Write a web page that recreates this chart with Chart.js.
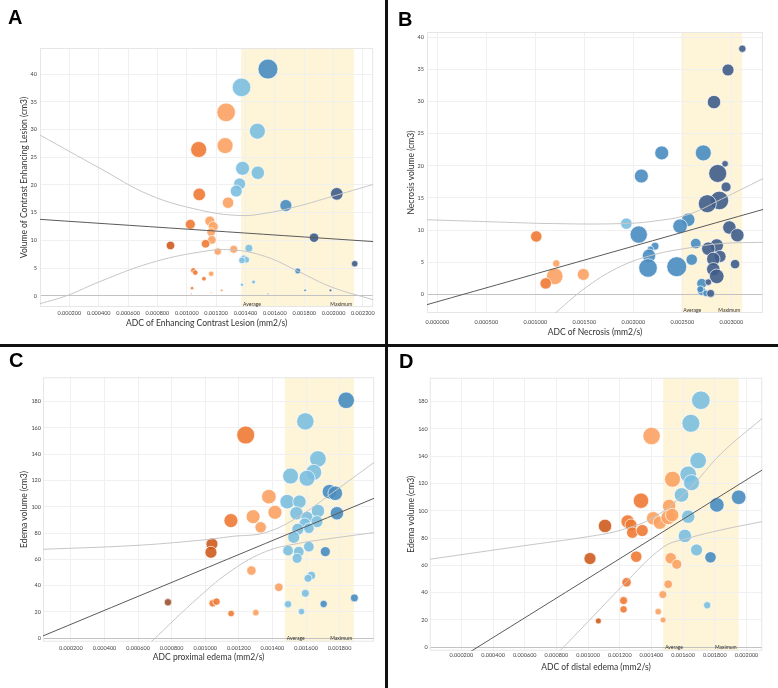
<!DOCTYPE html>
<html>
<head>
<meta charset="utf-8">
<script src="https://cdn.jsdelivr.net/npm/chart.js@4.4.0/dist/chart.umd.min.js"></script>
<style>
  body { margin: 0; width: 778px; height: 688px; background: #fff; position: relative; overflow: hidden; }
  canvas { position: absolute; }
  .letter { position: absolute; font: bold 20px "Liberation Sans", Arial, sans-serif; line-height: 20px; color: #000; }
  .vline { position: absolute; left: 385px; top: 0; width: 3px; height: 688px; background: #111; }
  .hline { position: absolute; left: 0; top: 344px; width: 778px; height: 3px; background: #111; }
</style>
</head>
<body>
<canvas id="chartA" width="384" height="340" style="left:0;top:0"></canvas>
<canvas id="chartB" width="389" height="340" style="left:389px;top:0"></canvas>
<canvas id="chartC" width="384" height="341" style="left:0;top:347px"></canvas>
<canvas id="chartD" width="389" height="341" style="left:389px;top:347px"></canvas>
<div class="vline"></div>
<div class="hline"></div>
<div class="letter" style="left:8px;top:7px">A</div>
<div class="letter" style="left:398px;top:9px">B</div>
<div class="letter" style="left:9px;top:350px">C</div>
<div class="letter" style="left:399px;top:351px">D</div>
<script>
// ---- A: enhancing contrast lesion ----
const adcA = [0.001553,0.001373,0.001268,0.001481,0.001081,0.001261,0.001380,0.001484,0.001360,0.001337,0.001085,0.001281,0.001675,0.002022,0.001157,0.001180,0.001024,0.001166,0.001171,0.001867,0.000889,0.001128,0.001320,0.001423,0.001211,0.001389,0.001405,0.001376,0.002144,0.001756,0.001045,0.001058,0.001166,0.001117,0.001376,0.001455,0.001036,0.001238,0.001806,0.001979,0.001030,0.001166,0.001553];
const volA = [40.9,37.6,33.1,29.7,26.4,27.1,23.0,22.2,20.2,18.9,18.3,16.8,16.3,18.4,13.5,12.5,12.9,11.5,10.1,10.5,9.1,9.4,8.4,8.6,8.0,6.8,6.5,6.4,5.8,4.5,4.6,4.2,4.0,3.1,2.0,2.5,1.4,1.0,1.0,1.0,0.4,0.6,0.4];
const sizeA = [10,9.3,9.3,8,8,8,7,6.7,6,6,6.3,5.7,6,6.3,5,5,5,4.3,4.3,4.7,4.3,4.3,4,4,3.7,3.3,3.3,3.3,3.3,3,2.7,2.7,2.7,2.3,1.7,2,1.7,1.3,1.3,1.3,0.8,0.8,0.8];
const groupA = [5,4,3,4,2,3,4,4,4,4,2,3,5,6,3,3,2,3,3,6,1,2,3,4,3,4,4,4,6,5,2,2,3,2,4,4,2,3,5,6,2,3,6];
const fitA = [[0, 0.00227], [13.8, 9.8]];
const upperA = [[0, 0.000409, 0.000747, 0.001085, 0.001355, 0.001536, 0.001761, 0.001986, 0.00227], [29.0, 23.0, 18.2, 15.5, 14.5, 14.9, 16.2, 17.9, 20.1]];
const lowerA = [[0, 0.000184, 0.000409, 0.000747, 0.001085, 0.00131, 0.001536, 0.001761, 0.001986, 0.00227], [-1.4, 0.06, 2.6, 5.9, 7.9, 8.3, 7.1, 4.4, 1.6, -0.7]];
const bandA = [0.00137, 0.00214];
const xTicksA = [0.0002,0.0004,0.0006,0.0008,0.001,0.0012,0.0014,0.0016,0.0018,0.002,0.0022];
const yTicksA = [0,5,10,15,20,25,30,35,40];

// ---- B: necrosis ----
const adcB = [0.003112,0.002966,0.002823,0.002290,0.002714,0.002082,0.002936,0.002861,0.002946,0.002878,0.002755,0.001929,0.002561,0.002477,0.002055,0.001010,0.002980,0.003061,0.002637,0.002851,0.002765,0.002221,0.002174,0.002160,0.002885,0.002816,0.001214,0.002443,0.002150,0.002596,0.003038,0.002816,0.002851,0.001198,0.001490,0.001106,0.002698,0.002765,0.002698,0.002742,0.002789,0.002684];
const volB = [38.2,34.9,29.9,22.0,22.0,18.4,20.3,18.8,16.7,14.6,14.1,11.0,11.6,10.6,9.3,9.0,10.4,9.2,7.9,7.6,7.1,7.5,7.0,6.0,5.9,5.5,4.8,4.3,4.1,5.4,4.7,3.9,2.8,2.8,3.1,1.7,1.7,1.9,0.5,0.15,0.15,0.8];
const sizeB = [3.7,6,6.7,7,8,7,3.3,9,5,9.3,9,5.7,6.7,7.3,8.7,5.7,6.7,6.7,5.3,6.7,6.7,4,3.3,6.7,6,6.7,3.7,10,9.3,5.7,4.7,6.7,7.3,8.3,6,5.7,5,3.3,4.3,3.3,4,3.5];
const groupB = [6,6,6,5,5,5,6,6,6,6,6,4,5,5,5,2,6,6,5,6,6,5,5,5,6,6,3,5,5,5,6,6,6,3,3,2,5,6,5,5,6,5];
const fitB = [[-0.000105, 0.003323], [-1.6, 13.2]];
const upperB = [[-0.000105, 0.000517, 0.001197, 0.001878, 0.002218, 0.002558, 0.002898, 0.003323], [11.6, 11.3, 11.0, 11.0, 11.4, 12.4, 14.8, 18.0]];
const lowerB = [[0.00115, 0.001537, 0.001878, 0.002218, 0.002558, 0.002898, 0.003323], [-3.6, 1.3, 4.4, 6.2, 7.2, 7.9, 8.1]];
const bandB = [0.00249, 0.00311];
const xTicksB = [0,0.0005,0.001,0.0015,0.002,0.0025,0.003];
const yTicksB = [0,5,10,15,20,25,30,35,40];

// ---- C: proximal edema ----
const adcC = [0.001839,0.001596,0.001241,0.001671,0.001646,0.001508,0.001606,0.001740,0.001774,0.001379,0.001488,0.001561,0.001415,0.001671,0.001784,0.001543,0.001153,0.001285,0.001330,0.001606,0.001665,0.001593,0.001617,0.001551,0.001527,0.001040,0.001034,0.001617,0.001493,0.001557,0.001547,0.001715,0.001275,0.001632,0.001612,0.001438,0.001596,0.000778,0.001044,0.001067,0.001493,0.001705,0.001888,0.001154,0.001301,0.001573];
const volC = [181.0,165.0,154.6,136.4,126.2,123.4,121.7,111.5,110.3,107.7,103.9,103.9,95.8,96.8,95.1,95.1,89.5,92.5,84.4,92.0,88.7,86.9,83.7,82.9,76.8,71.7,65.4,69.7,66.7,65.9,60.8,65.9,51.5,47.7,45.6,38.8,34.2,27.4,26.6,27.9,25.9,26.1,30.7,18.8,19.5,20.3];
const sizeC = [8.3,8.7,9,8.3,8,8,8,7.3,7.3,7.3,7.3,6.7,7,6.7,6.7,6.7,7,7,5.7,6,6,6,5.3,6,6,6,6,5.3,5.3,5.3,5,5,4.7,4.3,4,4.3,4,3.7,3.7,3.7,3.7,3.7,4,3.3,3.3,3.3];
const groupC = [5,4,2,4,4,4,4,5,5,3,4,4,3,4,5,4,2,3,3,4,4,4,4,4,4,1,1,4,4,4,4,5,3,4,4,3,4,0,2,2,4,5,5,2,3,4];
const fitC = [[0.000034, 0.002006], [1.8, 106.5]];
const upperC = [[0.000034, 0.00057, 0.000965, 0.001162, 0.001359, 0.001556, 0.001753, 0.002006], [67.7, 70.5, 74.5, 77.5, 80.4, 92.5, 110.3, 133.8]];
const lowerC = [[0.000679, 0.000965, 0.001162, 0.001359, 0.001556, 0.001753, 0.002006], [-2.6, 31.7, 52.0, 65.9, 72.2, 76.0, 80.4]];
const bandC = [0.001474, 0.001886];
const xTicksC = [0.0002,0.0004,0.0006,0.0008,0.001,0.0012,0.0014,0.0016,0.0018];
const yTicksC = [0,20,40,60,80,100,120,140,160,180];

// ---- D: distal edema ----
const adcD = [0.001712,0.001649,0.001401,0.001695,0.001632,0.001653,0.001533,0.001590,0.001951,0.001813,0.001334,0.001512,0.001411,0.001453,0.001506,0.001531,0.001632,0.001107,0.001250,0.001271,0.001279,0.001342,0.001611,0.001685,0.001773,0.001012,0.001304,0.001522,0.001560,0.001243,0.001506,0.001472,0.001224,0.001224,0.001443,0.001752,0.001474,0.001065];
const volD = [181.0,164.1,154.8,136.8,126.7,120.6,123.1,111.6,109.9,104.3,107.4,103.5,94.5,91.3,95.2,96.9,95.7,88.9,92.1,89.6,84.0,85.5,81.6,71.3,65.9,65.0,66.4,65.2,60.8,47.6,46.2,38.6,34.2,27.8,26.1,30.8,20.0,19.3];
const sizeD = [9.3,9,8.7,8.3,8.3,8,8,7.3,7.3,7.3,7.7,6.7,6.7,6.7,7.3,6.7,6.7,6.7,6.7,6,5.7,6,6.7,6,5.7,6,5.7,5.7,5,4.7,4.3,4,4,3.7,3.3,3.7,3,3];
const groupD = [4,4,3,4,4,4,3,4,5,5,2,3,3,3,3,3,4,1,2,2,2,2,4,4,5,1,2,3,3,2,3,3,2,2,3,4,3,1];
const fitD = [[0.00025, 0.0021], [-3.7, 129.9]];
const upperD = [[0, 0.000582, 0.001002, 0.001212, 0.001422, 0.001632, 0.001842, 0.0021], [64.5, 74.2, 81.1, 86.0, 95.7, 115.3, 142.1, 167.8]];
const lowerD = [[0.000823, 0.001002, 0.001212, 0.001474, 0.001632, 0.001842, 0.0021], [-2.5, 19.0, 44.4, 73.3, 79.9, 86.0, 92.1]];
const bandD = [0.001474, 0.001951];
const xTicksD = [0.0002,0.0004,0.0006,0.0008,0.001,0.0012,0.0014,0.0016,0.0018,0.002];
const yTicksD = [0,20,40,60,80,100,120,140,160,180];

const bandLabels = ['Average', 'Maximum'];

// diverging orange-blue colours for the groups
const groupColors = [
  'rgba(158,86,52,0.92)',
  'rgba(205,92,30,0.9)',
  'rgba(238,122,52,0.9)',
  'rgba(251,162,98,0.9)',
  'rgba(124,191,224,0.9)',
  'rgba(72,140,192,0.9)',
  'rgba(63,92,138,0.9)'
];

const tickFont = { family: 'Lato', size: 5.5 };
const titleFont = { family: 'Lato', size: 8.5 };

const bandPlugin = {
  id: 'band',
  beforeDraw(chart, args, opts) {
    const { ctx, chartArea: a, scales: { x } } = chart;
    const x0 = x.getPixelForValue(opts.from);
    const x1 = x.getPixelForValue(opts.to);
    ctx.save();
    ctx.fillStyle = '#fef4d8';
    ctx.fillRect(x0, a.top, x1 - x0, a.bottom - a.top);
    ctx.restore();
  },
  beforeDatasetsDraw(chart, args, opts) {
    const { ctx, chartArea: a, scales: { x } } = chart;
    const x0 = x.getPixelForValue(opts.from);
    const x1 = x.getPixelForValue(opts.to);
    ctx.save();
    ctx.strokeStyle = '#e6e6e6';
    ctx.lineWidth = 1;
    ctx.strokeRect(a.left + 0.5, a.top + 0.5, a.right - a.left - 1, a.bottom - a.top - 1);
    ctx.fillStyle = '#333';
    ctx.font = '5px Lato';
    ctx.textBaseline = 'bottom';
    ctx.textAlign = 'left';
    ctx.fillText(bandLabels[0], x0 + 2, a.bottom - 0.5);
    ctx.textAlign = 'right';
    ctx.fillText(bandLabels[1], x1 - 2, a.bottom - 0.5);
    ctx.restore();
  }
};

function lineSet(pts, color) {
  return {
    type: 'line',
    data: pts[0].map((x, i) => ({ x: x, y: pts[1][i] })),
    borderColor: color,
    borderWidth: 1,
    pointRadius: 0,
    tension: 0.4,
    fill: false
  };
}

function makeChart(id, p) {
  return new Chart(document.getElementById(id), {
    type: 'bubble',
    data: {
      datasets: [
        lineSet(p.fit, '#5a5a5a'),
        lineSet(p.upper, '#c6c6c6'),
        lineSet(p.lower, '#c6c6c6'),
        {
          type: 'bubble',
          data: p.adc.map((x, i) => ({ x: x, y: p.vol[i], r: p.size[i] })),
          backgroundColor: c => groupColors[p.group[c.dataIndex]],
          borderColor: 'rgba(255,255,255,0.85)',
          borderWidth: 0.8
        }
      ]
    },
    options: {
      responsive: false,
      animation: false,
      events: [],
      layout: { padding: { left: 0, top: p.top, right: p.right, bottom: 0 } },
      plugins: {
        legend: { display: false },
        tooltip: { enabled: false },
        band: { from: p.band[0], to: p.band[1] }
      },
      scales: {
        x: {
          type: 'linear',
          min: p.xRange[0],
          max: p.xRange[1],
          afterBuildTicks: s => { s.ticks = p.xTicks.map(v => ({ value: v })); },
          afterFit: s => { s.height = p.xh; },
          ticks: { callback: v => v.toFixed(6), font: tickFont, color: '#444', padding: p.xtp, maxRotation: 0, autoSkip: false },
          grid: { color: '#f0f0f0', drawTicks: false },
          border: { display: false },
          title: { display: true, text: p.xTitle, font: titleFont, color: '#333', padding: { top: 0, bottom: p.xtb } }
        },
        y: {
          type: 'linear',
          min: p.yRange[0],
          max: p.yRange[1],
          afterBuildTicks: s => { s.ticks = p.yTicks.map(v => ({ value: v })); },
          afterFit: s => { s.width = p.yw; },
          ticks: { callback: v => String(v), font: tickFont, color: '#444', padding: p.ytp, autoSkip: false },
          grid: { color: c => (c.tick && c.tick.value === 0 ? '#c2c2c2' : '#f0f0f0'), drawTicks: false },
          border: { display: false },
          title: { display: true, text: p.yTitle, font: titleFont, color: '#333', padding: { top: p.ytt, bottom: 0 } }
        }
      }
    },
    plugins: [bandPlugin]
  });
}

makeChart('chartA', {
  adc: adcA, vol: volA, size: sizeA, group: groupA,
  fit: fitA, upper: upperA, lower: lowerA, band: bandA,
  xTicks: xTicksA, yTicks: yTicksA, xRange: [0, 0.00227], yRange: [-2, 44.7],
  xTitle: 'ADC of Enhancing Contrast Lesion (mm2/s)', yTitle: 'Volume of Contrast Enhancing Lesion (cm3)',
  top: 48, right: 9, yw: 40, xh: 33, xtp: 3, ytp: 3, xtb: 11.6, ytt: 19.6
});
makeChart('chartB', {
  adc: adcB, vol: volB, size: sizeB, group: groupB,
  fit: fitB, upper: upperB, lower: lowerB, band: bandB,
  xTicks: xTicksB, yTicks: yTicksB, xRange: [-0.000105, 0.003323], yRange: [-2.9, 40.8],
  xTitle: 'ADC of Necrosis (mm2/s)', yTitle: 'Necrosis volume (cm3)',
  top: 32, right: 15, yw: 38, xh: 27, xtp: 6, ytp: 3, xtb: 2.9, ytt: 16.9
});
makeChart('chartC', {
  adc: adcC, vol: volC, size: sizeC, group: groupC,
  fit: fitC, upper: upperC, lower: lowerC, band: bandC,
  xTicks: xTicksC, yTicks: yTicksC, xRange: [0.000034, 0.002006], yRange: [-2.6, 198.5],
  xTitle: 'ADC proximal edema (mm2/s)', yTitle: 'Edema volume (cm3)',
  top: 30.3, right: 8, yw: 43, xh: 46.3, xtp: 3, ytp: 2, xtb: 25.3, ytt: 19.6
});
makeChart('chartD', {
  adc: adcD, vol: volD, size: sizeD, group: groupD,
  fit: fitD, upper: upperD, lower: lowerD, band: bandD,
  xTicks: xTicksD, yTicks: yTicksD, xRange: [0, 0.0021], yRange: [-2.5, 197.5],
  xTitle: 'ADC of distal edema (mm2/s)', yTitle: 'Edema volume (cm3)',
  top: 30.7, right: 15.7, yw: 40.7, xh: 37.3, xtp: 1.5, ytp: 2, xtb: 15.9, ytt: 16.9
});
</script>
</body>
</html>
